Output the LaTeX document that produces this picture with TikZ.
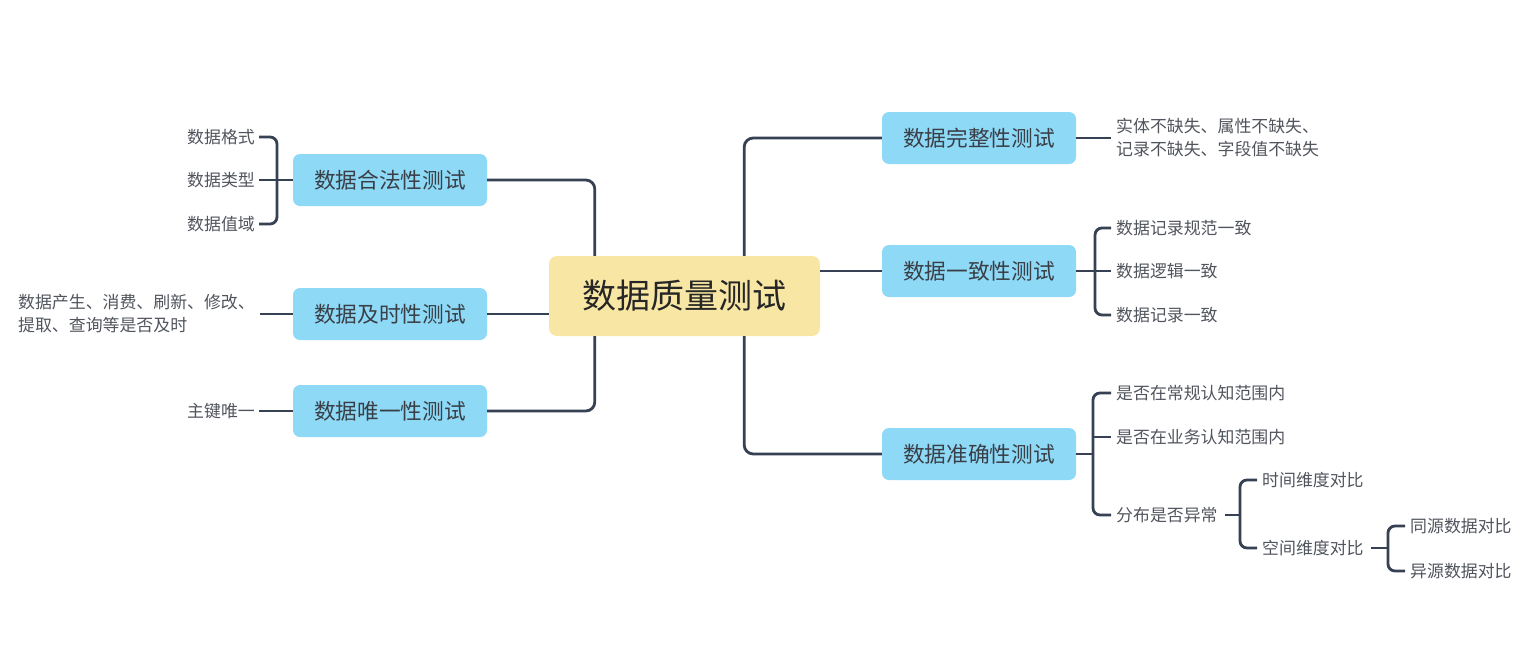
\documentclass[tikz,border=0pt]{standalone}
\usepackage{fontspec}
\setmainfont{Noto Sans CJK SC}
\usetikzlibrary{calc}
\definecolor{lineC}{HTML}{364153}
\definecolor{blueF}{HTML}{8DD9F6}
\definecolor{yelF}{HTML}{F8E7A4}
\definecolor{txtC}{HTML}{50545C}
\definecolor{boxT}{HTML}{3A3F47}
\tikzset{
  conn/.style={draw=lineC, line width=2.8pt, rounded corners=9pt},
  rootbox/.style={fill=yelF, rounded corners=8pt, minimum width=271pt, minimum height=80pt, inner sep=0pt, text=black!85, font=\fontsize{34}{38}\selectfont},
  topic/.style={fill=blueF, rounded corners=7pt, minimum width=194pt, minimum height=52pt, inner sep=0pt, text=boxT, font=\fontsize{21.7}{25}\selectfont},
  leafL/.style={anchor=east, inner sep=4pt, text=txtC, font=\fontsize{16.9}{23}\selectfont, align=right},
  leafR/.style={anchor=west, inner sep=5pt, text=txtC, font=\fontsize{16.9}{23}\selectfont, align=left}
}
\begin{document}
\begin{tikzpicture}[x=1pt,y=-1pt]
\useasboundingbox (0,0) rectangle (1532,670);
% root
\node[rootbox] (root) at (684.5,296) {数据质量测试};
% topics
\node[topic] (legal) at (390,180) {数据合法性测试};
\node[topic] (timely) at (390,314) {数据及时性测试};
\node[topic] (unique) at (390,411) {数据唯一性测试};
\node[topic] (complete) at (979,138) {数据完整性测试};
\node[topic] (consist) at (979,271) {数据一致性测试};
\node[topic] (accur) at (979,454) {数据准确性测试};
% root connectors
\draw[conn] ([xshift=46pt]root.north west) |- (legal.east);
\draw[conn] (root.west |- timely.east) -- (timely.east);
\draw[conn] ([xshift=46pt]root.south west) |- (unique.east);
\draw[conn] ([xshift=-76pt]root.north east) |- (complete.west);
\draw[conn] (root.east |- consist.west) -- (consist.west);
\draw[conn] ([xshift=-76pt]root.south east) |- (accur.west);
% legal leaves
\node[leafL] (l1) at (259,137) {数据格式};
\node[leafL] (l2) at (259,180) {数据类型};
\node[leafL] (l3) at (259,224) {数据值域};
\coordinate (jL) at (277,180);
\draw[conn] (legal.west) -- (l2.east);
\draw[conn, rounded corners=7pt] (l1.east) -| (jL) |- (l3.east);
% timely leaf
\node[leafR, anchor=west, inner sep=0pt] (t1) at (18,314) {数据产生、消费、刷新、修改、\\提取、查询等是否及时};
\coordinate (tj) at (260,314);
\draw[conn] (timely.west) -- (tj);
% unique leaf
\node[leafL] (u1) at (259,411) {主键唯一};
\draw[conn] (unique.west) -- (u1.east);
% complete leaf
\node[leafR] (c1) at (1111,138) {实体不缺失、属性不缺失、\\记录不缺失、字段值不缺失};
\draw[conn] (complete.east) -- (c1.west);
% consistency leaves
\node[leafR] (s1) at (1111,228) {数据记录规范一致};
\node[leafR] (s2) at (1111,271) {数据逻辑一致};
\node[leafR] (s3) at (1111,315) {数据记录一致};
\coordinate (jS) at (1095,271);
\draw[conn] (consist.east) -- (s2.west);
\draw[conn, rounded corners=7pt] (s1.west) -| (jS) |- (s3.west);
% accuracy leaves
\node[leafR] (a1) at (1111,393) {是否在常规认知范围内};
\node[leafR] (a2) at (1111,437) {是否在业务认知范围内};
\node[leafR] (a3) at (1111,515) {分布是否异常};
\coordinate (jA) at (1093,454);
\draw[conn] (accur.east) -- (jA);
\draw[conn, rounded corners=7pt] (a1.west) -| (jA) |- (a3.west);
\draw[conn, rounded corners=7pt] (jA |- a2.west) -- (a2.west);
% distribution
\node[leafR] (d1) at (1257,480) {时间维度对比};
\node[leafR] (d2) at (1257,548) {空间维度对比};
\coordinate (jD) at (1240,515);
\draw[conn] ([xshift=2pt]a3.east) -- (jD);
\draw[conn, rounded corners=7pt] (d1.west) -| (jD) |- (d2.west);
% spatial
\node[leafR] (e1) at (1405,526) {同源数据对比};
\node[leafR] (e2) at (1405,571) {异源数据对比};
\coordinate (jE) at (1388,548);
\draw[conn] ([xshift=2pt]d2.east) -- (jE);
\draw[conn, rounded corners=7pt] (e1.west) -| (jE) |- (e2.west);
\end{tikzpicture}
\end{document}
